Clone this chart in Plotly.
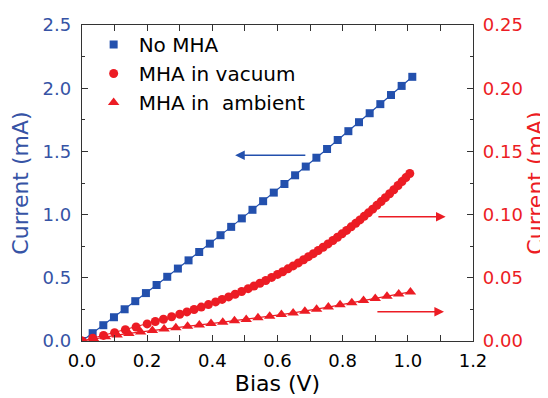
import plotly.graph_objects as go

# ---- data ----
bias_nomha = [0.0, 0.0327, 0.0654, 0.0981, 0.1308, 0.1635, 0.1962, 0.2289, 0.2616, 0.2943,
              0.327, 0.3597, 0.3924, 0.4251, 0.4578, 0.4905, 0.5232, 0.5559, 0.5886, 0.6213,
              0.654, 0.6867, 0.7194, 0.7521, 0.7848, 0.8175, 0.8502, 0.8829, 0.9156, 0.9483,
              0.981, 1.0137]
current_nomha = [0.0, 0.062, 0.125, 0.188, 0.251, 0.315, 0.379, 0.443, 0.508, 0.573,
                 0.638, 0.704, 0.770, 0.837, 0.903, 0.970, 1.038, 1.106, 1.174, 1.242,
                 1.311, 1.380, 1.450, 1.519, 1.590, 1.660, 1.731, 1.802, 1.874, 1.946,
                 2.018, 2.090]

bias_vacuum = [0.0, 0.033, 0.066, 0.1, 0.133, 0.166, 0.2, 0.225, 0.25, 0.275,
               0.3, 0.322, 0.344, 0.366, 0.388, 0.41, 0.43, 0.45, 0.47, 0.49,
               0.51, 0.528, 0.546, 0.564, 0.582, 0.6, 0.616, 0.632, 0.648, 0.664,
               0.68, 0.695, 0.71, 0.725, 0.74, 0.755, 0.77, 0.784, 0.798, 0.812,
               0.826, 0.84, 0.853, 0.866, 0.879, 0.892, 0.905, 0.918, 0.931, 0.944,
               0.957, 0.97, 0.982, 0.994, 1.006]
current_vacuum = [0.0, 0.0022, 0.0044, 0.0066, 0.0089, 0.0111, 0.0135, 0.0154, 0.0172, 0.0192,
                  0.0212, 0.0230, 0.0249, 0.0268, 0.0288, 0.0309, 0.0329, 0.0349, 0.0370, 0.0392,
                  0.0414, 0.0435, 0.0457, 0.0479, 0.0503, 0.0527, 0.0548, 0.0571, 0.0594, 0.0618,
                  0.0643, 0.0667, 0.0691, 0.0716, 0.0742, 0.0768, 0.0795, 0.0821, 0.0848, 0.0875,
                  0.0903, 0.0931, 0.0958, 0.0986, 0.1014, 0.1043, 0.1073, 0.1103, 0.1134, 0.1165,
                  0.1197, 0.1230, 0.1261, 0.1293, 0.1325]

bias_ambient = [0.0, 0.036, 0.072, 0.108, 0.144, 0.18, 0.216, 0.252, 0.288, 0.324,
                0.36, 0.396, 0.432, 0.468, 0.504, 0.54, 0.576, 0.612, 0.648, 0.684,
                0.72, 0.756, 0.792, 0.828, 0.864, 0.9, 0.936, 0.972, 1.008]
current_ambient = [0.0, 0.0017, 0.0033, 0.0047, 0.0060, 0.0072, 0.0083, 0.0094, 0.0105, 0.0116,
                   0.0127, 0.0138, 0.0149, 0.0160, 0.0171, 0.0183, 0.0196, 0.0209, 0.0222, 0.0236,
                   0.0251, 0.0268, 0.0286, 0.0303, 0.0320, 0.0337, 0.0354, 0.0371, 0.0388]

names = ["No MHA", "MHA in vacuum", "MHA in  ambient"]

BLUE = "#2350ad"
BLUE_TXT = "#3653a5"
RED = "#ec1c24"
FONT = "DejaVu Sans, Arial, sans-serif"

fig = go.Figure()

fig.add_trace(go.Scatter(x=bias_nomha, y=current_nomha, mode="lines+markers",
                         line=dict(color=BLUE, width=1.2),
                         marker=dict(symbol="square", size=8, color=BLUE),
                         showlegend=False, yaxis="y"))
fig.add_trace(go.Scatter(x=bias_vacuum, y=current_vacuum, mode="lines+markers",
                         line=dict(color=RED, width=1.2),
                         marker=dict(symbol="circle", size=9, color=RED),
                         showlegend=False, yaxis="y2"))
fig.add_trace(go.Scatter(x=bias_ambient, y=current_ambient, mode="lines+markers",
                         line=dict(color=RED, width=1.2),
                         marker=dict(symbol="triangle-up", size=10, color=RED),
                         showlegend=False, yaxis="y2"))

# legend-only entries (markers only, like the reference)
for nm, sym, col, sz in [(names[0], "square", BLUE, 8),
                         (names[1], "circle", RED, 9),
                         (names[2], "triangle-up", RED, 10)]:
    fig.add_trace(go.Scatter(x=[None], y=[None], mode="markers", name=nm,
                             marker=dict(symbol=sym, size=sz, color=col),
                             showlegend=True))

axis_common = dict(showline=True, linecolor="#333333", linewidth=1.3,
                   ticks="inside", ticklen=6, tickwidth=1.3, tickcolor="#333333",
                   showgrid=False, zeroline=False, automargin=False)

# page body has an 8px default margin, so the figure is 8px smaller than the window
fig.update_layout(
    width=540, height=390,
    margin=dict(l=74, r=75, t=17, b=57),
    paper_bgcolor="white", plot_bgcolor="white",
    font=dict(family=FONT, size=18, color="black"),
    xaxis=dict(range=[0, 1.2], dtick=0.2, tick0=0, tickformat=".1f",
               mirror="allticks", ticklabelstandoff=3,
               minor=dict(dtick=0.1, ticks="inside", ticklen=3, tickwidth=1.2, tickcolor="#333333"),
               tickfont=dict(size=18, color="black"),
               title=dict(text="Bias (V)", font=dict(size=22, color="black"), standoff=4),
               **axis_common),
    yaxis=dict(range=[0, 2.5], dtick=0.5, tick0=0, tickformat=".1f",
               ticklabelstandoff=6,
               minor=dict(dtick=0.25, ticks="inside", ticklen=3, tickwidth=1.2, tickcolor="#333333"),
               tickfont=dict(size=18, color=BLUE_TXT),
               title=dict(text="Current (mA)", font=dict(size=22, color=BLUE_TXT), standoff=8),
               **axis_common),
    yaxis2=dict(range=[0, 0.25], dtick=0.05, tick0=0, tickformat=".2f",
                overlaying="y", side="right", anchor="x", ticklabelstandoff=5,
                minor=dict(dtick=0.025, ticks="inside", ticklen=3, tickwidth=1.2, tickcolor="#333333"),
                tickfont=dict(size=18, color=RED),
                title=dict(text="Current (mA)", font=dict(size=22, color=RED), standoff=6),
                **axis_common),
    legend=dict(x=0.017, y=1.0, xanchor="left", yanchor="top",
                bgcolor="rgba(0,0,0,0)", borderwidth=0,
                font=dict(size=20, color="black"),
                itemwidth=40),
)

# arrows pointing to the axis each curve belongs to
fig.add_annotation(x=0.47, y=1.47, ax=0.69, ay=1.47, xref="x", yref="y",
                   axref="x", ayref="y", text="", showarrow=True,
                   arrowhead=2, arrowsize=1.2, arrowwidth=1.6, arrowcolor=BLUE)
fig.add_annotation(x=1.116, y=0.0983, ax=0.905, ay=0.0983, xref="x", yref="y2",
                   axref="x", ayref="y2", text="", showarrow=True,
                   arrowhead=2, arrowsize=1.2, arrowwidth=1.6, arrowcolor=RED)
fig.add_annotation(x=1.111, y=0.0232, ax=0.902, ay=0.0232, xref="x", yref="y2",
                   axref="x", ayref="y2", text="", showarrow=True,
                   arrowhead=2, arrowsize=1.2, arrowwidth=1.6, arrowcolor=RED)

fig.write_html("out.html")
